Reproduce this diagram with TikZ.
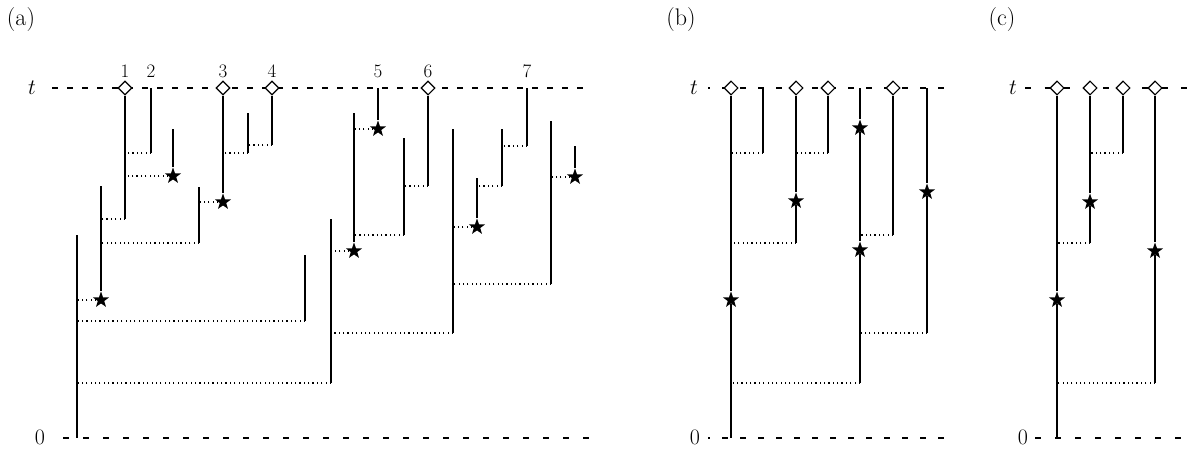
\RequirePackage{fix-cm}
\documentclass[tikz,border=0pt]{standalone}
\usetikzlibrary{shapes.geometric}
\begin{document}
\begin{tikzpicture}[x=1pt,y=-1pt,
 branch/.style={line width=1.15pt},
 link/.style={line width=1.15pt, dash pattern=on 1.15pt off 3.2pt},
 axisA/.style={line width=1.1pt, dash pattern=on 6pt off 9pt},
 axisW/.style={line width=1.1pt, dash pattern=on 6pt off 14pt},
 axisM/.style={line width=1.1pt, dash pattern=on 6pt off 12pt},
 leaf/.style={diamond, draw, fill=white, line width=1.1pt, minimum width=14pt, minimum height=14pt, inner sep=0pt},
 mut/.style={star, star points=5, star point ratio=2.5, fill=black, minimum size=17pt, inner sep=0pt},
 lab/.style={font=\fontsize{22}{24}\selectfont, inner sep=0pt},
 num/.style={font=\fontsize{19}{21}\selectfont, inner sep=0pt},
 panel/.style={font=\fontsize{24}{26}\selectfont, inner sep=0pt}]
\useasboundingbox (0,0) rectangle (1194,450);

% ================= panel (a) =================
\coordinate (aT0) at (52,88); \coordinate (aT1) at (590,88);
\coordinate (aB0) at (63,438); \coordinate (aB1) at (600,438);
\draw[axisA] (aT0) -- (aT1);
\draw[axisW] (aB0) -- (aB1);
\node[panel] (pa) at (21,20) {(a)};
\node[lab] (at) at (32,88) {$t$};
\node[lab] (a0) at (40,437) {$0$};

\node[leaf] (d1) at (125,88) {};
\node[leaf] (d3) at (223,88) {};
\node[leaf] (d4) at (272,88) {};
\node[leaf] (d6) at (428,88) {};
\coordinate (d2) at (151,88);
\coordinate (d5) at (378,88);
\coordinate (d7) at (527,88);
\node[num] (n1) at (125,71) {1};
\node[num] (n2) at (151,71) {2};
\node[num] (n3) at (223,71) {3};
\node[num] (n4) at (272,71) {4};
\node[num] (n5) at (378,71) {5};
\node[num] (n6) at (428,71) {6};
\node[num] (n7) at (527,71) {7};

\coordinate (e1) at (125,219);
\coordinate (e2) at (151,153);
\coordinate (ta) at (173,129);
\node[mut] (sa) at (173,176) {};
\node[mut] (s3) at (223,202) {};
\coordinate (e4) at (272,145);
\coordinate (u3t) at (248,113); \coordinate (u3b) at (248,153);
\coordinate (u2t) at (199,187); \coordinate (u2b) at (199,243);
\coordinate (u1t) at (101,186); \node[mut] (s101) at (101,300) {};
\coordinate (u0t) at (77,235); \coordinate (u0b) at (77,438);
\coordinate (u4t) at (305,255); \coordinate (u4b) at (305,321);
\coordinate (u5t) at (331,219); \coordinate (u5b) at (331,383);
\node[mut] (s5) at (378,129) {};
\coordinate (u6t) at (354,113); \node[mut] (s354) at (354,251) {};
\coordinate (u7t) at (404,138); \coordinate (u7b) at (404,235);
\coordinate (e6) at (428,186);
\coordinate (u8t) at (453,129); \coordinate (u8b) at (453,333);
\coordinate (u9t) at (477,178); \node[mut] (s477) at (477,227) {};
\coordinate (u10t) at (502,129); \coordinate (u10b) at (502,186);
\coordinate (e7) at (527,146);
\coordinate (u11t) at (551,121); \coordinate (u11b) at (551,284);
\coordinate (u12t) at (575,146); \node[mut] (s575) at (575,177) {};

\draw[branch] (d1) -- (e1);
\draw[branch] (d2) -- (e2);
\draw[branch] (ta) -- (sa);
\draw[branch] (d3) -- (s3);
\draw[branch] (d4) -- (e4);
\draw[branch] (u3t) -- (u3b);
\draw[branch] (u2t) -- (u2b);
\draw[branch] (u1t) -- (s101);
\draw[branch] (u0t) -- (u0b);
\draw[branch] (u4t) -- (u4b);
\draw[branch] (d5) -- (s5);
\draw[branch] (u6t) -- (s354);
\draw[branch] (u5t) -- (u5b);
\draw[branch] (u7t) -- (u7b);
\draw[branch] (d6) -- (e6);
\draw[branch] (u8t) -- (u8b);
\draw[branch] (u9t) -- (s477);
\draw[branch] (u10t) -- (u10b);
\draw[branch] (d7) -- (e7);
\draw[branch] (u11t) -- (u11b);
\draw[branch] (u12t) -- (s575);

\draw[link] (e2) -- (e2 -| e1);
\draw[link] (sa) -- (sa -| e1);
\draw[link] (e1) -- (e1 -| u1t);
\draw[link] (s101) -- (s101 -| u0t);
\draw[link] (s3) -- (s3 -| u2t);
\draw[link] (u2b) -- (u2b -| u1t);
\draw[link] (e4) -- (e4 -| u3t);
\draw[link] (u3b) -- (u3b -| d3);
\draw[link] (u4b) -- (u4b -| u0t);
\draw[link] (u5b) -- (u5b -| u0t);
\draw[link] (s5) -- (s5 -| u6t);
\draw[link] (s354) -- (s354 -| u5t);
\draw[link] (u7b) -- (u7b -| u6t);
\draw[link] (e6) -- (e6 -| u7t);
\draw[link] (u8b) -- (u8b -| u5t);
\draw[link] (s477) -- (s477 -| u8t);
\draw[link] (u10b) -- (u10b -| u9t);
\draw[link] (e7) -- (e7 -| u10t);
\draw[link] (u11b) -- (u11b -| u8t);
\draw[link] (s575) -- (s575 -| u11t);

% ================= panel (b) =================
\coordinate (bT0) at (708,88); \coordinate (bT1) at (945,88);
\coordinate (bB0) at (708,438); \coordinate (bB1) at (947,438);
\draw[axisM, dash phase=4pt] (bT0) -- (bT1);
\draw[axisM, dash phase=4pt] (bB0) -- (bB1);
\node[panel] (pb) at (681,20) {(b)};
\node[lab] (bt) at (694,88) {$t$};
\node[lab] (b0) at (695,437) {$0$};

\node[leaf] (bd1) at (731,88) {};
\node[leaf] (bd3) at (796,88) {};
\node[leaf] (bd4) at (828,88) {};
\node[leaf] (bd6) at (893,88) {};
\coordinate (bd2) at (763,88);
\coordinate (bd5) at (860,88);
\coordinate (bd7) at (927,88);
\node[mut] (bs1) at (731,300) {};
\node[mut] (bs3) at (796,201) {};
\node[mut] (bs5a) at (860,128) {};
\node[mut] (bs5b) at (860,250) {};
\node[mut] (bs7) at (927,192) {};
\coordinate (bb1) at (731,438);
\coordinate (be2) at (763,153);
\coordinate (be3) at (796,243);
\coordinate (be4) at (828,153);
\coordinate (be5) at (860,383);
\coordinate (be6) at (893,235);
\coordinate (be7) at (927,333);

\draw[branch] (bd1) -- (bs1) -- (bb1);
\draw[branch] (bd2) -- (be2);
\draw[branch] (bd3) -- (bs3) -- (be3);
\draw[branch] (bd4) -- (be4);
\draw[branch] (bd5) -- (bs5a) -- (bs5b) -- (be5);
\draw[branch] (bd6) -- (be6);
\draw[branch] (bd7) -- (bs7) -- (be7);

\draw[link] (be2) -- (be2 -| bd1);
\draw[link] (be3) -- (be3 -| bd1);
\draw[link] (be4) -- (be4 -| bd3);
\draw[link] (be6) -- (be6 -| bd5);
\draw[link] (be7) -- (be7 -| bd5);
\draw[link] (be5) -- (be5 -| bd1);

% ================= panel (c) =================
\coordinate (cT0) at (1025,88); \coordinate (cT1) at (1194,88);
\coordinate (cB0) at (1035,438); \coordinate (cB1) at (1182,438);
\draw[axisW, dash pattern=on 6pt off 13.5pt] (cT0) -- (cT1);
\draw[axisW] (cB0) -- (cB1);
\node[panel] (pc) at (1002,20) {(c)};
\node[lab] (ct) at (1013,88) {$t$};
\node[lab] (c0) at (1023,437) {$0$};

\node[leaf] (cd1) at (1057,88) {};
\node[leaf] (cd2) at (1090,88) {};
\node[leaf] (cd3) at (1123,88) {};
\node[leaf] (cd4) at (1155,88) {};
\node[mut] (cs1) at (1057,300) {};
\node[mut] (cs2) at (1090,202) {};
\node[mut] (cs4) at (1155,251) {};
\coordinate (cb1) at (1057,438);
\coordinate (ce2) at (1090,243);
\coordinate (ce3) at (1123,153);
\coordinate (ce4) at (1155,383);

\draw[branch] (cd1) -- (cs1) -- (cb1);
\draw[branch] (cd2) -- (cs2) -- (ce2);
\draw[branch] (cd3) -- (ce3);
\draw[branch] (cd4) -- (cs4) -- (ce4);

\draw[link] (ce2) -- (ce2 -| cd1);
\draw[link] (ce3) -- (ce3 -| cd2);
\draw[link] (ce4) -- (ce4 -| cd1);
\end{tikzpicture}
\end{document}
